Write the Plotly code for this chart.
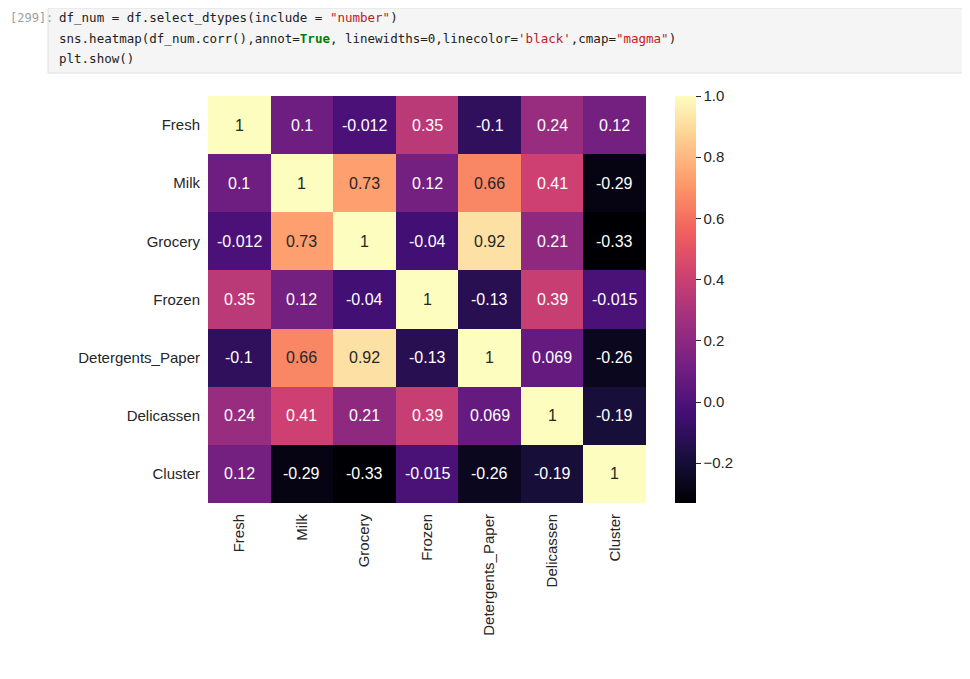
import plotly.graph_objects as go

cols = ["Fresh", "Milk", "Grocery", "Frozen", "Detergents_Paper", "Delicassen", "Cluster"]
corr = [
    [1, 0.1, -0.012, 0.35, -0.1, 0.24, 0.12],
    [0.1, 1, 0.73, 0.12, 0.66, 0.41, -0.29],
    [-0.012, 0.73, 1, -0.04, 0.92, 0.21, -0.33],
    [0.35, 0.12, -0.04, 1, -0.13, 0.39, -0.015],
    [-0.1, 0.66, 0.92, -0.13, 1, 0.069, -0.26],
    [0.24, 0.41, 0.21, 0.39, 0.069, 1, -0.19],
    [0.12, -0.29, -0.33, -0.015, -0.26, -0.19, 1],
]

W, H = 970, 679
off = 8  # page margin offset
x0, x1, y0, y1 = 208 - off, 646 - off, 96 - off, 503 - off

fig = go.Figure(go.Heatmap(
    z=corr, x=cols, y=cols, colorscale="Magma", zmin=-0.33, zmax=1.0,
    xgap=0, ygap=0,
    colorbar=dict(x=(675 - off - 10) / W, xanchor="left", thickness=21, thicknessmode="pixels",
                  len=(y1 - y0) / H, lenmode="fraction", y=1 - (y0 + y1) / 2 / H,
                  yanchor="middle", outlinewidth=0, ypad=0, ticks="outside", ticklen=5,
                  tickcolor="#262626", tickvals=[-0.2, 0, 0.2, 0.4, 0.6, 0.8, 1.0],
                  ticktext=["\u22120.2", "0.0", "0.2", "0.4", "0.6", "0.8", "1.0"],
                  tickfont=dict(size=15, color="#262626", family="Liberation Sans")),
    hoverinfo="skip"))

for i, row in enumerate(corr):
    for j, v in enumerate(row):
        txt = "{:.2g}".format(v)
        fig.add_annotation(x=cols[j], y=cols[i], text=txt, showarrow=False,
                           font=dict(size=16, family="Liberation Sans",
                                     color="#262626" if v > 0.6 else "white"))

# notebook code cell
fig.add_shape(type="rect", xref="paper", yref="paper", x0=(48 - off) / W, x1=1, y0=1, y1=1 - (73 - off) / H,
              fillcolor="#f5f5f5", line=dict(color="#e0e0e0", width=1), layer="below")
fig.add_annotation(xref="paper", yref="paper", x=0, y=1 - (18 - off) / H, text="[299]:",
                   showarrow=False, xanchor="left", yanchor="middle",
                   font=dict(size=12, family="DejaVu Sans Mono", color="#9e9e9e"))
s = "color:#ba2121"
lines = [
    f'df_num = df.select_dtypes(include = <span style="{s}">"number"</span>)',
    f'sns.heatmap(df_num.corr(),annot=<span style="color:#008000"><b>True</b></span>, linewidths=0,linecolor=<span style="{s}">\'black\'</span>,cmap=<span style="{s}">"magma"</span>)',
    'plt.show()',
]
for k, ln in enumerate(lines):
    fig.add_annotation(xref="paper", yref="paper", x=(57 - off) / W, y=1 - (18 - off + 20.5 * k) / H,
                       text=ln, showarrow=False, xanchor="left", yanchor="middle",
                       font=dict(size=12.5, family="DejaVu Sans Mono", color="#212121"))

fig.update_xaxes(domain=[x0 / W, x1 / W], tickangle=-90, showgrid=False, zeroline=False,
                 ticks="outside", ticklen=4, tickcolor="white",
                 tickfont=dict(size=15, color="#262626", family="Liberation Sans"))
fig.update_yaxes(domain=[1 - y1 / H, 1 - y0 / H], autorange="reversed", showgrid=False,
                 zeroline=False, ticks="outside", ticklen=4, tickcolor="white",
                 tickfont=dict(size=15, color="#262626", family="Liberation Sans"))
fig.update_layout(width=W, height=H, margin=dict(l=0, r=0, t=0, b=0),
                  plot_bgcolor="white", paper_bgcolor="white", showlegend=False)
fig.write_html("out.html")
